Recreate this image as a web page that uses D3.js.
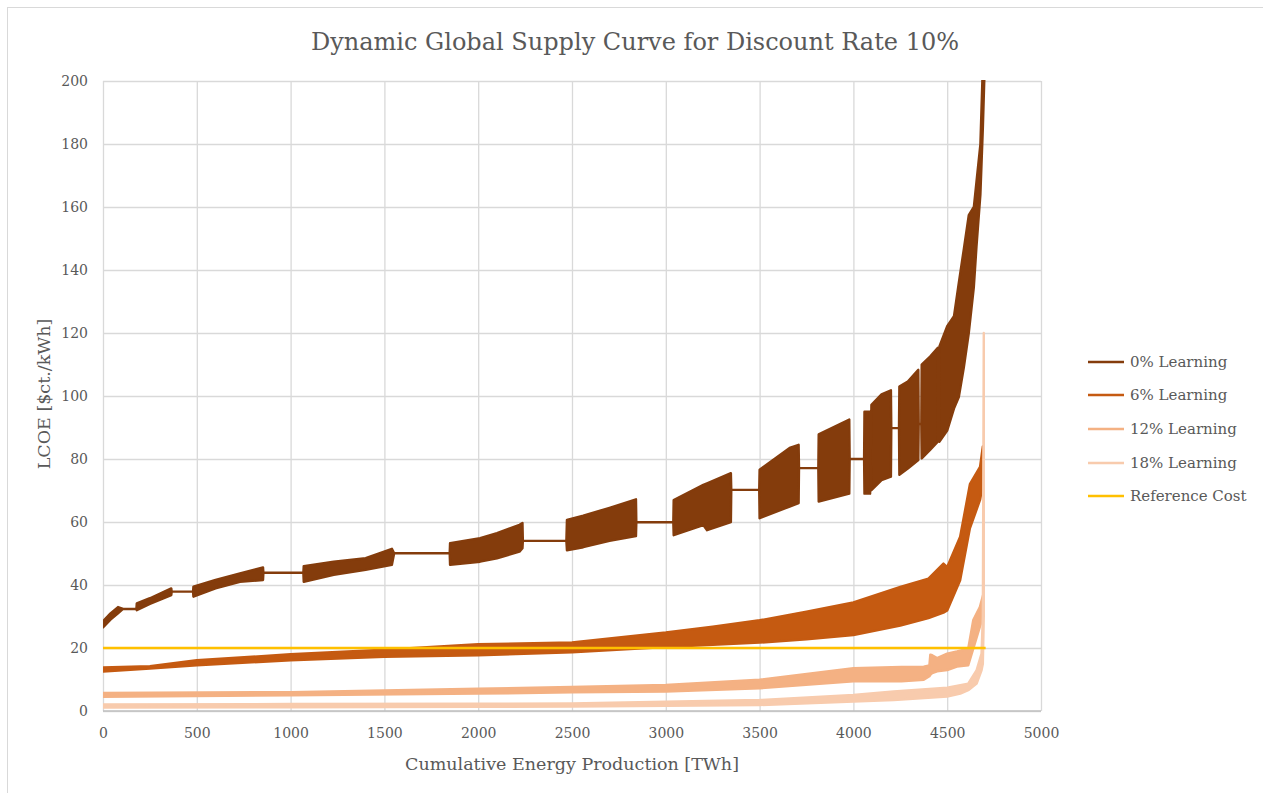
<!DOCTYPE html>
<html>
<head>
<meta charset="utf-8">
<script src="https://cdn.jsdelivr.net/npm/d3@7"></script>
<style>
  html, body { margin: 0; padding: 0; background: #fff; }
  svg { display: block; }
  text { font-family: "DejaVu Serif", "Liberation Serif", serif; fill: #595959; }
</style>
</head>
<body>
<svg id="chart" width="1263" height="793"></svg>
<script>
// ---------- data ----------
const title = "Dynamic Global Supply Curve for Discount Rate 10%";
const xTitle = "Cumulative Energy Production [TWh]";
const yTitle = "LCOE [$ct./kWh]";
const xTicks = [0, 500, 1000, 1500, 2000, 2500, 3000, 3500, 4000, 4500, 5000];
const yTicks = [0, 20, 40, 60, 80, 100, 120, 140, 160, 180, 200];
const seriesNames = ["0% Learning", "6% Learning", "12% Learning", "18% Learning", "Reference Cost"];
const seriesColors = ["#843C0C", "#C55A11", "#F4B183", "#F8CBAD", "#FFC000"];

// each point: [cumulative TWh, low LCOE, high LCOE] (envelope of the oscillating curve)
const learn0 = [
  [0, 26.5, 28.5], [40, 29, 31], [80, 31, 33], [107, 32.4, 32.4], [178, 32.4, 32.4],
  [180, 32, 34.2], [250, 34, 35.8], [364, 36.8, 38.9], [366, 37.9, 37.9], [480, 37.9, 37.9],
  [482, 36.3, 39.5], [600, 38.9, 41.6], [730, 41, 43.7], [853, 41.6, 45.6],
  [855, 43.9, 43.9], [1068, 43.9, 43.9],
  [1070, 41, 46], [1230, 43.2, 47.4], [1400, 44.8, 48.5], [1540, 46.4, 51.5],
  [1552, 50.1, 50.1], [1848, 50.1, 50.1],
  [1850, 46.4, 53.3], [2010, 47.4, 54.9], [2100, 48.5, 56.5], [2220, 50.6, 59.1], [2236, 51.7, 59.7],
  [2238, 54, 54], [2470, 54, 54],
  [2473, 51, 60.7], [2560, 52, 62], [2700, 54, 64.5], [2841, 55.5, 67.2],
  [2843, 59.9, 59.9], [3040, 59.9, 59.9],
  [3042, 55.8, 67], [3200, 59, 71.8], [3220, 57.4, 72.3], [3347, 60, 75.5],
  [3349, 70.2, 70.2], [3498, 70.2, 70.2],
  [3500, 61.2, 76.6], [3660, 64.9, 83.5], [3708, 66, 84.5],
  [3710, 77.1, 77.1], [3813, 77.1, 77.1],
  [3815, 66.5, 87.8], [3978, 69, 92.5],
  [3980, 80, 80], [4057, 80, 80],
  [4059, 69, 95], [4089, 69, 95], [4092, 80, 80], [4096, 70.1, 97.2],
  [4150, 73.3, 100.5], [4200, 74.4, 101.8],
  [4202, 89.8, 89.8], [4243, 89.8, 89.8],
  [4245, 75, 103], [4290, 77, 104.6], [4346, 79.7, 108.3],
  [4348, 91.1, 91.1], [4362, 91.1, 91.1],
  [4364, 80.2, 110], [4410, 83, 112.6], [4450, 85.5, 115.3],
  [4452, 105, 105], [4457, 105, 105],
  [4459, 85.5, 115.8], [4500, 89, 122.2], [4536, 96, 125.3], [4562, 99.7, 136],
  [4589, 109.2, 146.8], [4615, 120, 157.4], [4642, 134.6, 160], [4656, 147.3, 168],
  [4677, 164, 180], [4690, 185, 205], [4700, 205, 210]
];
const learn6 = [
  [0, 12.5, 13.8], [250, 13.5, 14.2], [500, 14.5, 16.1], [1000, 16.1, 18], [1500, 17.2, 19.5],
  [2000, 17.7, 21.2], [2500, 18.6, 21.8], [3000, 20.3, 24.9], [3250, 21, 26.8], [3500, 21.7, 28.8],
  [3750, 22.8, 31.5], [4000, 24.1, 34.5], [4250, 27.1, 39.4], [4400, 29.5, 42], [4480, 31.2, 46.8],
  [4500, 31.9, 45.7], [4569, 41.5, 55.3], [4621, 58, 72], [4675, 67, 77.5], [4690, 72, 84]
];
const learn12 = [
  [0, 4.5, 5.7], [1000, 5, 6], [2000, 5.5, 7.1], [2500, 5.9, 7.6], [3000, 6.2, 8.3],
  [3500, 7.2, 9.9], [4000, 9.4, 13.6], [4256, 9.4, 14], [4375, 9.9, 14.1], [4405, 11, 14.5],
  [4410, 11.5, 17.9], [4420, 12, 17.7], [4446, 12.6, 16.8], [4500, 13, 18.2], [4552, 14.1, 18.9],
  [4612, 14.5, 19.8], [4639, 19.8, 28.9], [4674, 26.7, 33], [4692, 30, 37]
];
const learn18 = [
  [0, 1.1, 2.1], [1000, 1.2, 2.2], [2000, 1.3, 2.3], [2500, 1.4, 2.4], [3500, 1.9, 3.5],
  [4000, 3, 5.1], [4215, 3.5, 6.2], [4500, 4.6, 7.4], [4570, 5.5, 8.2], [4612, 6.6, 8.7],
  [4657, 8.7, 13], [4683, 12.9, 18.2], [4690, 15, 30], [4695, 30, 120]
];
const refCost = [[0, 20], [4705, 20]];

// ---------- layout ----------
const svg = d3.select("#chart");
const W = 1263, H = 793;
const m = { left: 103, top: 81, width: 938, height: 630 };

const x = d3.scaleLinear().domain([0, 5000]).range([m.left, m.left + m.width]);
const y = d3.scaleLinear().domain([0, 200]).range([m.top + m.height, m.top]);

// outer chart border
svg.append("rect").attr("x", 7.5).attr("y", 7.5).attr("width", W).attr("height", H)
  .attr("fill", "none").attr("stroke", "#D9D9D9").attr("stroke-width", 1);

// gridlines
svg.append("g").attr("transform", `translate(0,${m.top + m.height})`)
  .call(d3.axisBottom(x).tickValues(xTicks).tickSize(-m.height).tickFormat(""))
  .call(g => g.select(".domain").remove())
  .call(g => g.selectAll("line").attr("stroke", "#D9D9D9").attr("stroke-width", 1.3));
svg.append("g").attr("transform", `translate(${m.left},0)`)
  .call(d3.axisLeft(y).tickValues(yTicks).tickSize(-m.width).tickFormat(""))
  .call(g => g.select(".domain").remove())
  .call(g => g.selectAll("line").attr("stroke", "#D9D9D9").attr("stroke-width", 1.3));

// bottom axis line
svg.append("line").attr("x1", x(0)).attr("x2", x(5000)).attr("y1", y(0)).attr("y2", y(0))
  .attr("stroke", "#BFBFBF").attr("stroke-width", 1.3);

// tick labels
const xa = svg.append("g").attr("transform", `translate(0,${m.top + m.height})`)
  .call(d3.axisBottom(x).tickValues(xTicks).tickSize(0).tickPadding(17).tickFormat(d3.format("d")));
xa.select(".domain").remove();
xa.selectAll("text").style("font-family", "DejaVu Serif").style("font-size", "14px").attr("fill", "#595959");

const ya = svg.append("g").attr("transform", `translate(${m.left},0)`)
  .call(d3.axisLeft(y).tickValues(yTicks).tickSize(0).tickPadding(15).tickFormat(d3.format("d")));
ya.select(".domain").remove();
ya.selectAll("text").style("font-family", "DejaVu Serif").style("font-size", "14px").attr("fill", "#595959");

// clip
svg.append("clipPath").attr("id", "plotclip").append("rect")
  .attr("x", m.left).attr("y", m.top - 1).attr("width", m.width).attr("height", m.height + 2);

const plot = svg.append("g").attr("clip-path", "url(#plotclip)");
const area = d3.area().x(d => x(d[0])).y0(d => y(d[1])).y1(d => y(d[2]));

[learn0, learn6, learn12, learn18].forEach((s, i) => {
  plot.append("path").datum(s).attr("d", area)
    .attr("fill", seriesColors[i]).attr("stroke", seriesColors[i])
    .attr("stroke-width", 2.4).attr("stroke-linejoin", "round");
});
const line = d3.line().x(d => x(d[0])).y(d => y(d[1]));
plot.append("path").datum(refCost).attr("d", line)
  .attr("fill", "none").attr("stroke", seriesColors[4]).attr("stroke-width", 2.6);

// title
svg.append("text").attr("x", 635).attr("y", 50).attr("text-anchor", "middle")
  .style("font-size", "24px").text(title);

// axis titles
svg.append("text").attr("x", x(2500)).attr("y", 770).attr("text-anchor", "middle")
  .style("font-size", "17.5px").text(xTitle);
svg.append("text").attr("transform", `translate(50,${y(100) - 2}) rotate(-90)`).attr("text-anchor", "middle")
  .style("font-size", "17.5px").text(yTitle);

// legend
const lg = svg.append("g");
const legendY = [362, 395, 429, 463, 496];
seriesNames.forEach((n, i) => {
  lg.append("line").attr("x1", 1088).attr("x2", 1124).attr("y1", legendY[i]).attr("y2", legendY[i])
    .attr("stroke", seriesColors[i]).attr("stroke-width", 2.6);
  lg.append("text").attr("x", 1130).attr("y", legendY[i] + 5).style("font-size", "15px").text(n);
});
</script>
</body>
</html>
